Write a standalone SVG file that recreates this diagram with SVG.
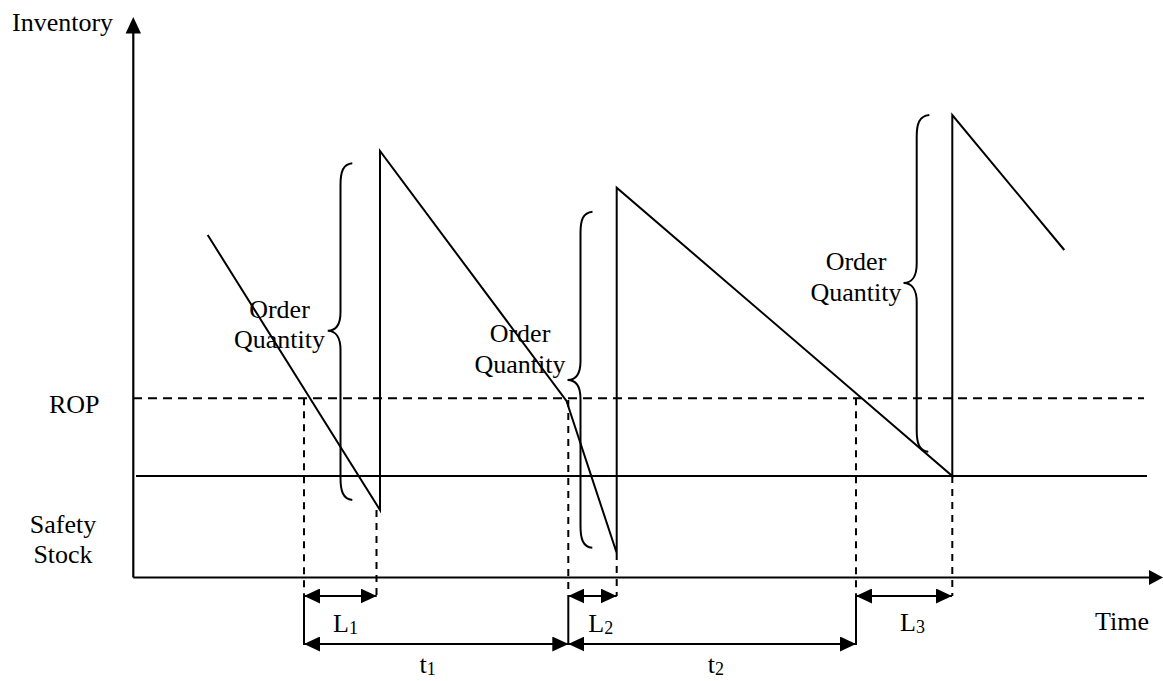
<svg xmlns="http://www.w3.org/2000/svg" width="1163" height="681" viewBox="0 0 1163 681">
<style>
.ln{stroke:#000;stroke-width:2;fill:none}
.ax{stroke:#000;stroke-width:2.2;fill:none}
.da{stroke:#000;stroke-width:2;fill:none;stroke-dasharray:9,6}
.dv{stroke:#000;stroke-width:2;fill:none;stroke-dasharray:7,6}
.br{stroke:#000;stroke-width:2;fill:none}
.dim{stroke:#000;stroke-width:2;fill:none;marker-start:url(#ah);marker-end:url(#ah)}
text{font-family:"Liberation Serif","Times New Roman",serif;font-size:26px;fill:#000}
.m{text-anchor:middle}
.sub{font-size:18px}
</style>
<defs>
<marker id="ah" markerUnits="userSpaceOnUse" markerWidth="16" markerHeight="15" refX="16" refY="7.5" orient="auto-start-reverse" viewBox="0 0 16 15">
<path d="M0,0 L16,7.5 L0,15 z" fill="#000"/>
</marker>
</defs>
<rect width="1163" height="681" fill="#fff"/>

<g id="axes">
<path class="ax" d="M133.3,577.5 V30"/>
<path d="M133.3,17 L141,33.5 L125.6,33.5 z" fill="#000"/>
<path class="ax" d="M133.3,577.5 H1150"/>
<path d="M1163,577.5 L1149,570 L1149,585 z" fill="#000"/>
</g>

<g id="levels">
<path class="da" d="M133,398.3 H1144"/>
<path class="ln" d="M136,476 H1147"/>
</g>

<g id="inventory-curve">
<path class="ln" d="M207.7,235 L380,510 L380,151 L566.5,401 L616.7,553 L616.7,187.7 L952.3,476 L952.3,115 L1064.3,250"/>
</g>

<g id="braces">
<path class="br" d="M352.3,163.3 C343,164 340.5,172 340.5,185 L340.5,312 C340.5,324 336,330.7 327.7,330.7 C336,330.7 340.5,338 340.5,350 L340.5,478 C340.5,491 343,499 352.3,500"/>
<path class="br" d="M592.5,211.7 C583,212.5 580.5,220 580.5,233 L580.5,361 C580.5,373 576,380 567.5,380 C576,380 580.5,387 580.5,399 L580.5,526 C580.5,539 583,547 592.3,547.7"/>
<path class="br" d="M929.3,115 C919,116 916.7,124 916.7,137 L916.7,264 C916.7,276 912,283 903.5,283 C912,283 916.7,290 916.7,302 L916.7,430 C916.7,443 919,451 928.3,451.7"/>
</g>

<g id="guides">
<path class="dv" d="M304,398.3 V595"/>
<path class="dv" d="M376.5,510 V596"/>
<path class="dv" d="M568.3,400 V596"/>
<path class="dv" d="M616.7,553 V596"/>
<path class="dv" d="M856,398.3 V596"/>
<path class="dv" d="M952.3,476 V596"/>
<path class="ln" d="M304,595 V645"/>
<path class="ln" d="M568.3,596 V645"/>
<path class="ln" d="M856,596 V645"/>
</g>

<g id="dimensions">
<path class="dim" d="M304,596 H376.7"/>
<path class="dim" d="M568.3,596 H616.7"/>
<path class="dim" d="M856,596 H952"/>
<path class="dim" d="M304,644 H568.3"/>
<path class="dim" d="M568.3,644 H856"/>
</g>

<g id="labels">
<text x="12" y="31">Inventory</text>
<text x="49" y="413">ROP</text>
<text class="m" x="63" y="533">Safety</text>
<text class="m" x="63" y="563">Stock</text>
<text class="m" x="279.5" y="318">Order</text>
<text class="m" x="279.5" y="348">Quantity</text>
<text class="m" x="520" y="341.7">Order</text>
<text class="m" x="520" y="372.7">Quantity</text>
<text class="m" x="856" y="269.5">Order</text>
<text class="m" x="856" y="300.5">Quantity</text>
<text x="333" y="631.7">L<tspan class="sub" dy="2">1</tspan></text>
<text x="588.3" y="631.7">L<tspan class="sub" dy="2">2</tspan></text>
<text x="900" y="631">L<tspan class="sub" dy="2">3</tspan></text>
<text x="419.5" y="673">t<tspan class="sub" dy="2">1</tspan></text>
<text x="707.7" y="673">t<tspan class="sub" dy="2">2</tspan></text>
<text x="1095" y="630">Time</text>
</g>
</svg>
